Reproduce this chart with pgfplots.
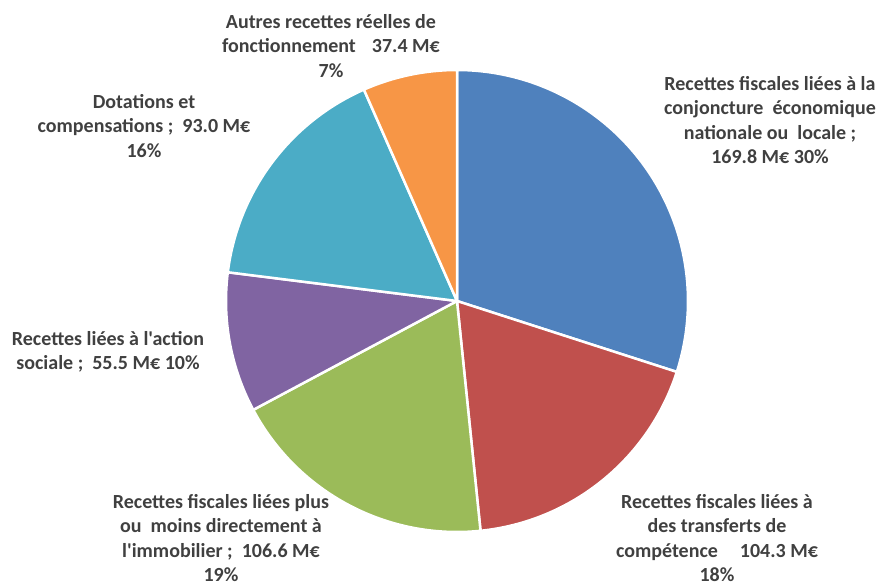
\documentclass[border=0pt]{standalone}
\usepackage{pgfplots}
\pgfplotsset{compat=1.18}
\usepackage{fontspec}
\setmainfont{Carlito}[Ligatures=TeXOff]

\definecolor{cBlue}{HTML}{4F81BD}
\definecolor{cRed}{HTML}{C0504D}
\definecolor{cGreen}{HTML}{9BBB59}
\definecolor{cPurple}{HTML}{8064A2}
\definecolor{cTeal}{HTML}{4BACC6}
\definecolor{cOrange}{HTML}{F79646}
\definecolor{txt}{HTML}{404040}

% values in M€, clockwise from the top
\def\vA{169.8}\def\vB{104.3}\def\vC{106.6}\def\vD{55.5}\def\vE{93.0}\def\vF{37.4}
\pgfmathsetmacro\tot{\vA+\vB+\vC+\vD+\vE+\vF}
\pgfmathsetmacro\aA{90-\vA/\tot*360}
\pgfmathsetmacro\aB{\aA-\vB/\tot*360}
\pgfmathsetmacro\aC{\aB-\vC/\tot*360}
\pgfmathsetmacro\aD{\aC-\vD/\tot*360}
\pgfmathsetmacro\aE{\aD-\vE/\tot*360}
\pgfmathsetmacro\aF{\aE-\vF/\tot*360}

\def\r{231pt}
\def\slice#1#2#3{\fill[#3, draw=white, line width=2.5pt, line join=round]
    (axis cs:457,286) -- ++(#1:\r) arc[start angle=#1, end angle=#2, radius=\r] -- cycle;}
\tikzset{lbl/.style={align=center, text=txt, font=\bfseries\fontsize{20}{24.5}\selectfont, inner sep=0pt}}

\begin{document}
\begin{tikzpicture}
\begin{axis}[
    width=879pt, height=587pt, scale only axis,
    xmin=0, xmax=879, ymin=0, ymax=587,
    axis lines=none, clip=false,
]
\path (axis cs:0,0) rectangle (axis cs:879,587);
\slice{90}{\aA}{cBlue}
\slice{\aA}{\aB}{cRed}
\slice{\aB}{\aC}{cGreen}
\slice{\aC}{\aD}{cPurple}
\slice{\aD}{\aE}{cTeal}
\slice{\aE}{\aF}{cOrange}

\node[lbl] at (axis cs:770,467) {Recettes fiscales liées à la\\conjoncture\ \ économique\\nationale ou\ \ locale ;\\169.8 M€ 30\%};
\node[lbl] at (axis cs:717,49) {Recettes fiscales liées à\\des transferts de\\compétence\hspace{1.1em}104.3 M€\\18\%};
\node[lbl] at (axis cs:221,49) {Recettes fiscales liées plus\\ou\ \ moins directement à\\l'immobilier ;\ \ 106.6 M€\\19\%};
\node[lbl] at (axis cs:108,235) {Recettes liées à l'action\\sociale ;\ \ 55.5 M€ 10\%};
\node[lbl] at (axis cs:144,461) {Dotations et\\compensations ;\ \ 93.0 M€\\16\%};
\node[lbl] at (axis cs:331,541) {Autres recettes réelles de\\fonctionnement\hspace{0.8em}37.4 M€\\7\%};
\end{axis}
\end{tikzpicture}
\end{document}
